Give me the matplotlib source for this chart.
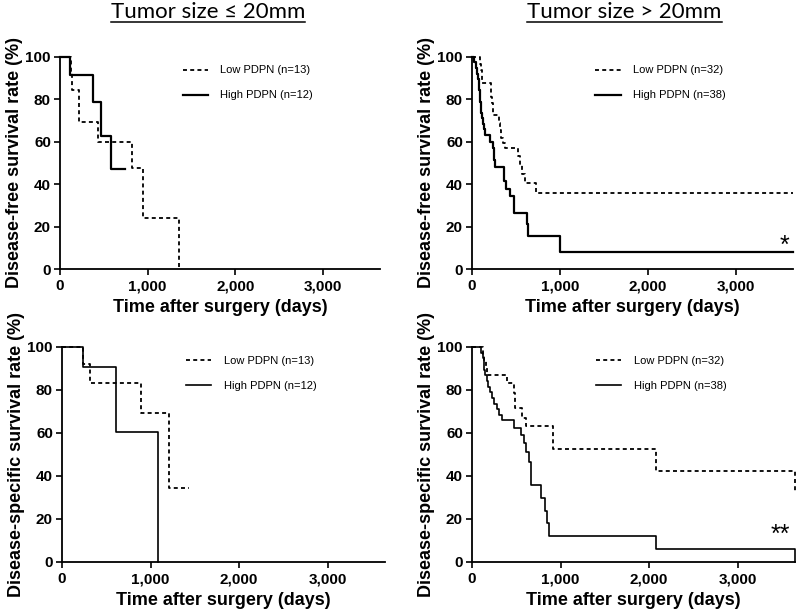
import matplotlib
matplotlib.use('Agg')
import matplotlib.pyplot as plt
from matplotlib.ticker import FuncFormatter
from matplotlib.lines import Line2D

# ── Kaplan-Meier step data (days, % surviving) ────────────────────────────────
# Tumor size <= 20 mm, disease-free survival
lo_dfs_small_t = [0, 121, 140, 220, 436, 822, 947, 1352]
lo_dfs_small_s = [100, 92.3, 84.6, 69.2, 59.8, 47.8, 23.9, 0]
hi_dfs_small_t = [0, 114, 371, 466, 576, 739]
hi_dfs_small_s = [100, 91.7, 78.6, 62.9, 47.2, 47.2]

# Tumor size > 20 mm, disease-free survival
lo_dfs_large_t = [0, 90, 100, 110, 118, 213, 220, 226, 233, 240, 310, 320, 335,
                  355, 373, 525, 545, 563, 601, 723, 3650]
lo_dfs_large_s = [100, 96.9, 93.8, 90.6, 87.5, 84.4, 81.3, 78.1, 75.0, 72.6, 69.0,
                  65.5, 62.0, 59.5, 57.3, 53.2, 49.0, 44.7, 40.5, 35.9, 35.9]
hi_dfs_large_t = [0, 23, 50, 60, 68, 75, 82, 88, 95, 101, 107, 115, 126, 135, 145,
                  202, 235, 245, 255, 262, 358, 368, 390, 430, 475, 628, 639, 995, 3650]
hi_dfs_large_s = [100, 97.4, 94.7, 92.1, 89.5, 86.8, 84.2, 81.6, 78.9, 76.3, 73.7,
                  71.1, 68.4, 65.8, 63.2, 60.0, 57.0, 54.0, 51.2, 48.3, 44.8, 41.3,
                  37.8, 34.2, 26.3, 21.0, 15.8, 7.9, 7.9]

# Tumor size <= 20 mm, disease-specific survival
lo_dss_small_t = [0, 235, 318, 897, 1214, 1434]
lo_dss_small_s = [100, 92.3, 83.1, 69.2, 34.6, 34.6]
hi_dss_small_t = [0, 235, 610, 1086]
hi_dss_small_s = [100, 90.9, 60.6, 0]

# Tumor size > 20 mm, disease-specific survival
lo_dss_large_t = [0, 120, 140, 155, 165, 390, 470, 487, 565, 615, 915, 2080, 3645]
lo_dss_large_s = [100, 96.9, 93.8, 90.6, 87.2, 83.3, 78.5, 71.6, 67.2, 63.1, 52.6,
                  42.2, 32.9]
hi_dss_large_t = [0, 106, 120, 130, 140, 150, 165, 180, 200, 225, 250, 280, 310, 340,
                  479, 556, 582, 610, 645, 668, 785, 825, 850, 865, 2078, 3645]
hi_dss_large_s = [100, 97.4, 94.7, 92.1, 89.5, 86.8, 84.2, 81.6, 78.9, 76.3, 73.7,
                  71.1, 68.4, 66.0, 62.5, 59.0, 55.5, 51.0, 46.5, 36.0, 29.7, 23.9,
                  18.0, 12.0, 6.0, 0]

titles = ['Tumor size \u2264 20mm', 'Tumor size > 20mm']
ylabels = ['Disease-free survival rate (%)', 'Disease-specific survival rate (%)']
xlabel = 'Time after surgery (days)'
n_small = (13, 12)
n_large = (32, 38)
stars = {'dfs': '*', 'dss': '**'}

TICK_FONT = dict(family='Liberation Sans', weight='bold', size=11)
LABEL_FONT = dict(family='Liberation Sans', weight='bold', size=13)

fig = plt.figure(figsize=(7.98, 6.16), dpi=100)

ax_tl = fig.add_axes([0.0752, 0.5633, 0.4010, 0.3442])
ax_tr = fig.add_axes([0.5915, 0.5633, 0.4023, 0.3442])
ax_bl = fig.add_axes([0.0777, 0.0877, 0.4048, 0.3490])
ax_br = fig.add_axes([0.5915, 0.0877, 0.4048, 0.3490])


def km_panel(ax, lo_t, lo_s, hi_t, hi_s, n, ylabel, top):
    lw_solid = 1.6 if top else 1.2
    ax.step(lo_t, lo_s, where='post', color='black', lw=1.3,
            linestyle=(0, (2.2, 1.8)), clip_on=False,
            label=f'Low PDPN (n={n[0]})')
    ax.step(hi_t, hi_s, where='post', color='black', lw=lw_solid,
            clip_on=False, label=f'High PDPN (n={n[1]})')
    ax.set_xlim(0, 3650)
    ax.set_ylim(0, 100)
    ax.set_xticks([0, 1000, 2000, 3000])
    ax.set_yticks([0, 20, 40, 60, 80, 100])
    ax.xaxis.set_major_formatter(FuncFormatter(lambda v, p: f'{int(v):,}'))
    for s in ('top', 'right'):
        ax.spines[s].set_visible(False)
    for s in ('left', 'bottom'):
        ax.spines[s].set_linewidth(1.3)
    ax.tick_params(direction='out', length=4.5, width=1.2, pad=2)
    ax.tick_params(axis='x', pad=3)
    for lab in ax.get_xticklabels() + ax.get_yticklabels():
        lab.set_fontproperties(matplotlib.font_manager.FontProperties(**TICK_FONT))
    ax.set_xlabel(xlabel, fontdict=LABEL_FONT, labelpad=4)
    ax.set_ylabel(ylabel, fontdict=LABEL_FONT, labelpad=2)
    ax.legend(loc='upper left', bbox_to_anchor=(0.383, 0.96), frameon=False,
              borderpad=0, borderaxespad=0, handlelength=2.3, handletextpad=1.1,
              labelspacing=1.35, prop=dict(family='Liberation Sans', size=8))


km_panel(ax_tl, lo_dfs_small_t, lo_dfs_small_s, hi_dfs_small_t, hi_dfs_small_s,
         n_small, ylabels[0], True)
km_panel(ax_tr, lo_dfs_large_t, lo_dfs_large_s, hi_dfs_large_t, hi_dfs_large_s,
         n_large, ylabels[0], True)
km_panel(ax_bl, lo_dss_small_t, lo_dss_small_s, hi_dss_small_t, hi_dss_small_s,
         n_small, ylabels[1], False)
km_panel(ax_br, lo_dss_large_t, lo_dss_large_s, hi_dss_large_t, hi_dss_large_s,
         n_large, ylabels[1], False)

# significance marks
ax_tr.text(3550, 7.5, stars['dfs'], ha='center', va='baseline',
           family='Liberation Sans', fontsize=18)
ax_br.text(3480, 9.5, stars['dss'], ha='center', va='baseline',
           family='Liberation Sans', fontsize=18)

# underlined column titles
title_texts = []
for x, t in zip([0.2607, 0.7826], titles):
    title_texts.append(fig.text(x, 0.971, t, ha='center', va='baseline',
                                family=['Lato', 'DejaVu Sans'], fontsize=16))

fig.canvas.draw()
r = fig.canvas.get_renderer()
for tt in title_texts:
    bb = tt.get_window_extent(r)
    x0, x1 = bb.x0 / fig.bbox.width, bb.x1 / fig.bbox.width
    y = 1 - 22 / 616
    fig.add_artist(Line2D([x0, x1], [y, y], transform=fig.transFigure,
                          color='black', lw=1.1))

fig.savefig('out.png', dpi=100)
